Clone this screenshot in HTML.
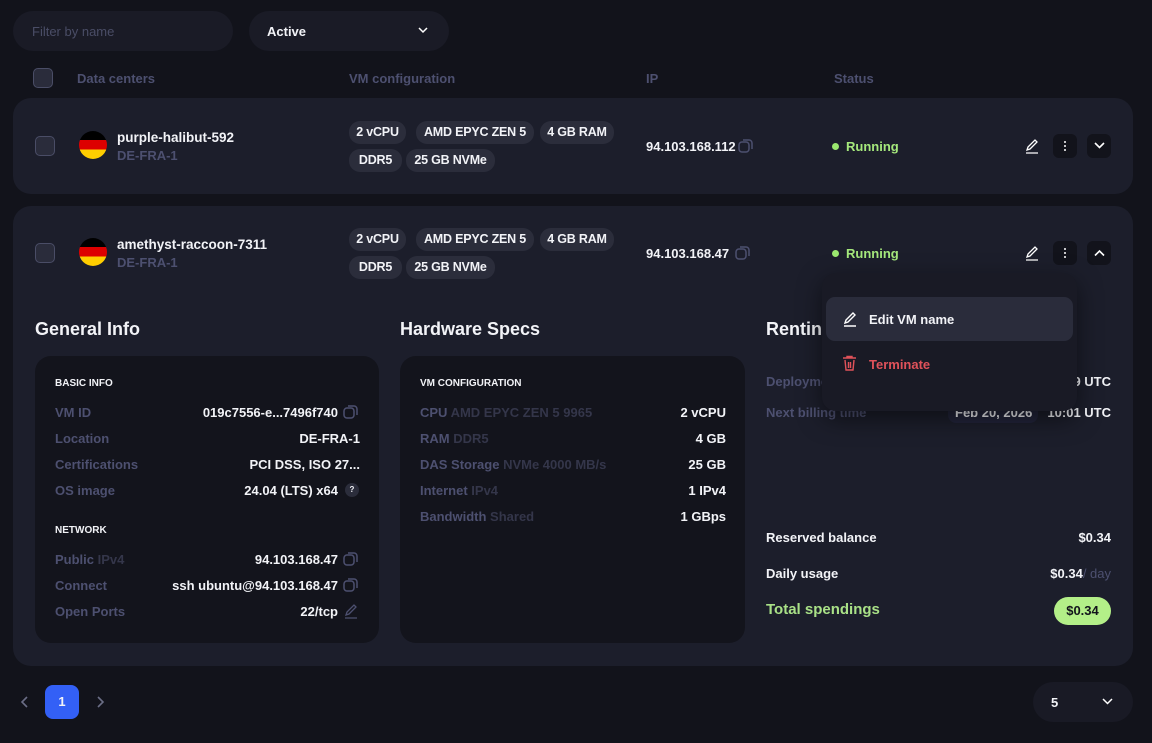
<!DOCTYPE html>
<html><head><meta charset="utf-8"><style>
*{box-sizing:border-box;margin:0;padding:0}
body{width:1152px;height:743px;background:#12131b;font-family:"Liberation Sans",sans-serif;color:#f2f3f7;position:relative;overflow:hidden;font-weight:bold;font-size:13px}
.a{position:absolute;white-space:nowrap}
.t{position:absolute;white-space:nowrap;line-height:16px}
.g{color:#4d5070}
.g2{color:#34364a}
.card{position:absolute;background:#1c1e2b;border-radius:18px}
.inner{position:absolute;background:#13141c;border-radius:16px}
.cb{position:absolute;width:20px;height:20px;border:1.5px solid #4a4d66;border-radius:5px;background:#2a2c3b}
.chip{position:absolute;height:23px;line-height:23px;background:#2b2d3b;border-radius:11px;font-size:12.5px;text-align:center;white-space:nowrap;letter-spacing:-0.2px}
.flag{position:absolute;width:28px;height:28px;border-radius:50%;overflow:hidden;background:linear-gradient(#000 0 33%,#dd0000 33% 66%,#ffce00 66%)}
.dot{position:absolute;width:7px;height:7px;border-radius:50%;background:#9be86f}
.run{color:#a5e87c}
.btn{position:absolute;width:24px;height:24px;border-radius:6px;background:#12131b}
.sec{position:absolute;font-size:18px;line-height:20px}
.lab{font-size:10px}
.ico{position:absolute}
.kb{position:absolute;width:2px;height:2px;background:#fff;border-radius:1px;box-shadow:0 -4px 0 #fff,0 4px 0 #fff}
</style></head><body>
<div class="a" style="left:13px;top:11px;width:220px;height:40px;border-radius:20px;background:#1a1b26"></div>
<div class="t g" style="left:32px;top:24px;font-weight:normal;color:#4a4d66">Filter by name</div>
<div class="a" style="left:249px;top:11px;width:200px;height:40px;border-radius:20px;background:#1a1b26"></div>
<div class="t" style="left:267px;top:24px">Active</div>
<svg class="ico" style="left:418px;top:27px" width="10" height="7"><path d="M1 1l4 4 4-4" stroke="#fff" stroke-width="1.5" fill="none"/></svg>

<div class="cb" style="left:33px;top:68px"></div>
<div class="t g" style="left:77px;top:71px">Data centers</div>
<div class="t g" style="left:349px;top:71px">VM configuration</div>
<div class="t g" style="left:646px;top:71px">IP</div>
<div class="t g" style="left:834px;top:71px">Status</div>

<!-- row 1 -->
<div class="card" style="left:13px;top:98px;width:1120px;height:96px"></div>
<div class="cb" style="left:35px;top:136px"></div>
<div class="flag" style="left:79px;top:131px"></div>
<div class="t" style="left:117px;top:130px;font-size:13.5px">purple-halibut-592</div>
<div class="t g" style="left:117px;top:148px">DE-FRA-1</div>
<div class="chip" style="left:349px;top:121px;width:57px">2 vCPU</div>
<div class="chip" style="left:416px;top:121px;width:118px">AMD EPYC ZEN 5</div>
<div class="chip" style="left:540px;top:121px;width:74px">4 GB RAM</div>
<div class="chip" style="left:349px;top:149px;width:53px">DDR5</div>
<div class="chip" style="left:406px;top:149px;width:89px">25 GB NVMe</div>
<div class="t" style="left:646px;top:139px">94.103.168.112</div>
<svg class="ico" style="left:738px;top:138px" width="16" height="16"><rect x="1" y="4" width="10" height="10" rx="3" stroke="#4d5070" stroke-width="1.5" fill="none"/><path d="M5 2h6a3 3 0 0 1 3 3v6" stroke="#4d5070" stroke-width="1.5" fill="none"/></svg>
<div class="dot" style="left:832px;top:143px"></div>
<div class="t run" style="left:846px;top:139px">Running</div>
<svg class="ico" style="left:1024px;top:138px" width="16" height="16"><path d="M3 12l1-3 7-7 2 2-7 7-3 1zM2 15h12" stroke="#fff" stroke-width="1.3" fill="none"/></svg>
<div class="btn" style="left:1053px;top:134px"></div>
<div class="kb" style="left:1064px;top:145px"></div>
<div class="btn" style="left:1087px;top:134px"></div>
<svg class="ico" style="left:1094px;top:142px" width="11" height="8"><path d="M1 1l4.5 4.5L10 1" stroke="#fff" stroke-width="1.6" fill="none"/></svg>

<!-- row 2 -->
<div class="card" style="left:13px;top:206px;width:1120px;height:460px"></div>
<div class="cb" style="left:35px;top:243px"></div>
<div class="flag" style="left:79px;top:238px"></div>
<div class="t" style="left:117px;top:237px;font-size:13.5px">amethyst-raccoon-7311</div>
<div class="t g" style="left:117px;top:255px">DE-FRA-1</div>
<div class="chip" style="left:349px;top:228px;width:57px">2 vCPU</div>
<div class="chip" style="left:416px;top:228px;width:118px">AMD EPYC ZEN 5</div>
<div class="chip" style="left:540px;top:228px;width:74px">4 GB RAM</div>
<div class="chip" style="left:349px;top:256px;width:53px">DDR5</div>
<div class="chip" style="left:406px;top:256px;width:89px">25 GB NVMe</div>
<div class="t" style="left:646px;top:246px">94.103.168.47</div>
<svg class="ico" style="left:735px;top:245px" width="16" height="16"><rect x="1" y="4" width="10" height="10" rx="3" stroke="#4d5070" stroke-width="1.5" fill="none"/><path d="M5 2h6a3 3 0 0 1 3 3v6" stroke="#4d5070" stroke-width="1.5" fill="none"/></svg>
<div class="dot" style="left:832px;top:250px"></div>
<div class="t run" style="left:846px;top:246px">Running</div>
<svg class="ico" style="left:1024px;top:245px" width="16" height="16"><path d="M3 12l1-3 7-7 2 2-7 7-3 1zM2 15h12" stroke="#fff" stroke-width="1.3" fill="none"/></svg>
<div class="btn" style="left:1053px;top:241px"></div>
<div class="kb" style="left:1064px;top:252px"></div>
<div class="btn" style="left:1087px;top:241px"></div>
<svg class="ico" style="left:1094px;top:249px" width="11" height="8"><path d="M1 6.5L5.5 2 10 6.5" stroke="#fff" stroke-width="1.6" fill="none"/></svg>

<div class="sec" style="left:35px;top:319px">General Info</div>
<div class="sec" style="left:400px;top:319px">Hardware Specs</div>
<div class="sec" style="left:766px;top:319px">Renting</div>

<div class="inner" style="left:35px;top:356px;width:344px;height:287px"></div>
<div class="t lab" style="left:55px;top:376px">BASIC INFO</div>
<div class="t g" style="left:55px;top:405px">VM ID</div><div class="t" style="right:814px;top:405px">019c7556-e...7496f740</div>
<div class="t g" style="left:55px;top:431px">Location</div><div class="t" style="right:792px;top:431px">DE-FRA-1</div>
<div class="t g" style="left:55px;top:457px">Certifications</div><div class="t" style="right:792px;top:457px">PCI DSS, ISO 27...</div>
<div class="t g" style="left:55px;top:483px">OS image</div><div class="t" style="right:814px;top:483px">24.04 (LTS) x64</div>
<div class="a" style="left:345px;top:483px;width:14px;height:14px;border-radius:50%;background:#2b2d3b;font-size:8px;text-align:center;line-height:14px">?</div>
<div class="t lab" style="left:55px;top:523px">NETWORK</div>
<div class="t g" style="left:55px;top:552px">Public <span class="g2">IPv4</span></div><div class="t" style="right:814px;top:552px">94.103.168.47</div>
<div class="t g" style="left:55px;top:578px">Connect</div><div class="t" style="right:814px;top:578px">ssh ubuntu@94.103.168.47</div>
<div class="t g" style="left:55px;top:604px">Open Ports</div><div class="t" style="right:814px;top:604px">22/tcp</div>
<svg class="ico" style="left:343px;top:404px" width="16" height="16"><rect x="1" y="4" width="10" height="10" rx="3" stroke="#4d5070" stroke-width="1.5" fill="none"/><path d="M5 2h6a3 3 0 0 1 3 3v6" stroke="#4d5070" stroke-width="1.5" fill="none"/></svg>
<svg class="ico" style="left:343px;top:551px" width="16" height="16"><rect x="1" y="4" width="10" height="10" rx="3" stroke="#4d5070" stroke-width="1.5" fill="none"/><path d="M5 2h6a3 3 0 0 1 3 3v6" stroke="#4d5070" stroke-width="1.5" fill="none"/></svg>
<svg class="ico" style="left:343px;top:577px" width="16" height="16"><rect x="1" y="4" width="10" height="10" rx="3" stroke="#4d5070" stroke-width="1.5" fill="none"/><path d="M5 2h6a3 3 0 0 1 3 3v6" stroke="#4d5070" stroke-width="1.5" fill="none"/></svg>
<svg class="ico" style="left:343px;top:603px" width="16" height="16"><path d="M3 12l1-3 7-7 2 2-7 7-3 1zM2 15h12" stroke="#4d5070" stroke-width="1.3" fill="none"/></svg>

<div class="inner" style="left:400px;top:356px;width:345px;height:287px"></div>
<div class="t lab" style="left:420px;top:376px">VM CONFIGURATION</div>
<div class="t g" style="left:420px;top:405px">CPU <span class="g2">AMD EPYC ZEN 5 9965</span></div><div class="t" style="right:426px;top:405px">2 vCPU</div>
<div class="t g" style="left:420px;top:431px">RAM <span class="g2">DDR5</span></div><div class="t" style="right:426px;top:431px">4 GB</div>
<div class="t g" style="left:420px;top:457px">DAS Storage <span class="g2">NVMe 4000 MB/s</span></div><div class="t" style="right:426px;top:457px">25 GB</div>
<div class="t g" style="left:420px;top:483px">Internet <span class="g2">IPv4</span></div><div class="t" style="right:426px;top:483px">1 IPv4</div>
<div class="t g" style="left:420px;top:509px">Bandwidth <span class="g2">Shared</span></div><div class="t" style="right:426px;top:509px">1 GBps</div>

<div class="t g" style="left:766px;top:374px">Deployment</div><div class="t" style="right:41px;top:374px">10:09 UTC</div>
<div class="t g" style="left:766px;top:405px">Next billing time</div>
<div class="a" style="left:948px;top:403px;width:90px;height:20px;border-radius:8px;background:#22243a"></div>
<div class="t" style="left:955px;top:405px">Feb 20, 2026</div><div class="t" style="right:41px;top:405px">10:01 UTC</div>
<div class="t" style="left:766px;top:530px">Reserved balance</div><div class="t" style="right:41px;top:530px">$0.34</div>
<div class="t" style="left:766px;top:566px">Daily usage</div><div class="t" style="right:41px;top:566px">$0.34<span class="g" style="font-weight:normal">/ day</span></div>
<div class="t" style="left:766px;top:602px;font-size:15px;color:#a9e187">Total spendings</div>
<div class="a" style="left:1054px;top:597px;width:57px;height:28px;border-radius:14px;background:#b3ef88;color:#12131b;text-align:center;line-height:28px">$0.34</div>

<!-- dropdown -->
<div class="a" style="left:822px;top:273px;width:255px;height:138px;border-radius:14px;background:#191a25;box-shadow:0 8px 24px rgba(0,0,0,.5)"></div>
<div class="a" style="left:826px;top:297px;width:247px;height:44px;border-radius:9px;background:#2a2c3b"></div>
<svg class="ico" style="left:842px;top:311px" width="17" height="17"><path d="M3 12l1-3 7-7 2 2-7 7-3 1zM2 15h12" stroke="#fff" stroke-width="1.4" fill="none"/></svg>
<div class="t" style="left:869px;top:312px">Edit VM name</div>
<svg class="ico" style="left:841px;top:355px" width="17" height="17"><path d="M2 3h13M6 3V1.5h5V3M4 5l1 10h7l1-10M7.5 7v6M9.5 7v6" stroke="#e0525a" stroke-width="1.4" fill="none"/></svg>
<div class="t" style="left:869px;top:357px;color:#e0525a">Terminate</div>

<!-- pagination -->
<svg class="ico" style="left:20px;top:695px" width="10" height="14"><path d="M7 2L2 7l5 5" stroke="#6b6e86" stroke-width="1.6" fill="none"/></svg>
<div class="a" style="left:45px;top:685px;width:34px;height:34px;border-radius:8px;background:#3360f6;text-align:center;line-height:34px">1</div>
<svg class="ico" style="left:95px;top:695px" width="10" height="14"><path d="M3 2l5 5-5 5" stroke="#6b6e86" stroke-width="1.6" fill="none"/></svg>
<div class="a" style="left:1033px;top:682px;width:100px;height:40px;border-radius:20px;background:#191a25"></div>
<div class="t" style="left:1051px;top:695px">5</div>
<svg class="ico" style="left:1102px;top:698px" width="11" height="8"><path d="M1 1l4.5 4.5L10 1" stroke="#fff" stroke-width="1.5" fill="none"/></svg>
</body></html>
